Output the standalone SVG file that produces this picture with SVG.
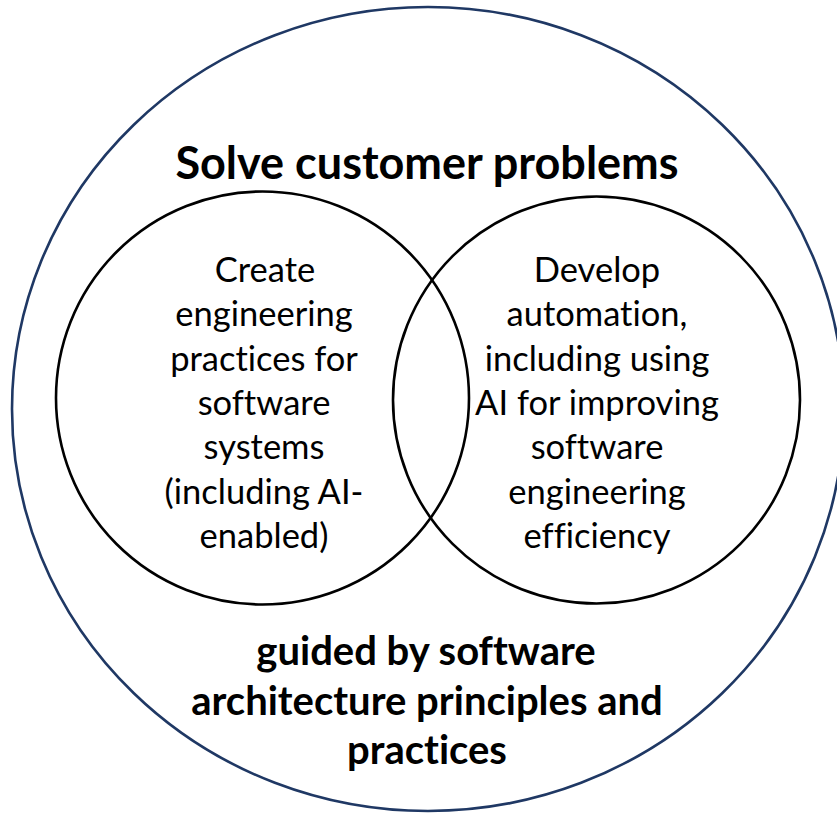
<svg xmlns="http://www.w3.org/2000/svg" width="837" height="814" viewBox="0 0 837 814">
  <style>
    .outer { fill: none; stroke: #1f3864; stroke-width: 2.6; }
    .ring { fill: none; stroke: #000000; stroke-width: 2.6; }
    .head, .body { font-family: Lato, "Open Sans", "Liberation Sans", sans-serif; fill: #000; text-anchor: middle;
                   font-variant-ligatures: none; font-feature-settings: "liga" 0, "clig" 0; }
    .head { font-weight: 700; }
    .body { font-weight: 400; font-size: 34.5px; }
  </style>
  <rect width="837" height="814" fill="#ffffff"/>

  <!-- outer domain -->
  <g id="outer-domain">
    <ellipse class="outer" cx="428" cy="409" rx="416" ry="402"/>
    <text class="head" x="427" y="179" font-size="45">Solve customer problems</text>
    <g class="head" font-size="40">
      <text x="426" y="665">guided by software</text>
      <text x="427" y="715">architecture principles and</text>
      <text x="427" y="764">practices</text>
    </g>
  </g>

  <!-- left set -->
  <g id="engineering-practices">
    <circle class="ring" cx="262.5" cy="398" r="206.5"/>
    <g class="body">
      <text x="265" y="282">Create</text>
      <text x="264" y="326">engineering</text>
      <text x="264" y="371">practices for</text>
      <text x="264" y="415">software</text>
      <text x="264" y="459">systems</text>
      <text x="264" y="504">(including AI-</text>
      <text x="264" y="548">enabled)</text>
    </g>
  </g>

  <!-- right set -->
  <g id="automation">
    <circle class="ring" cx="596.5" cy="400" r="203.5"/>
    <g class="body">
      <text x="597" y="282">Develop</text>
      <text x="597" y="326">automation,</text>
      <text x="597" y="371">including using</text>
      <text x="597" y="415">AI for improving</text>
      <text x="597" y="459">software</text>
      <text x="597" y="504">engineering</text>
      <text x="597" y="548">efficiency</text>
    </g>
  </g>
</svg>
